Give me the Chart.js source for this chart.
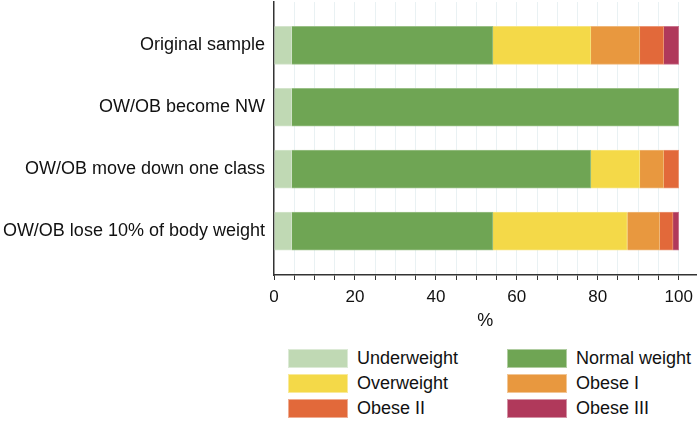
<!DOCTYPE html>
<html>
<head>
<meta charset="utf-8">
<script src="https://cdn.jsdelivr.net/npm/chart.js@4"></script>
<style>
  body { margin: 0; background: #fff; font-family: "Liberation Sans", Arial, sans-serif; }
  #wrap { position: relative; width: 700px; height: 421px; }
  #chart-box { position: absolute; left: 0; top: 0; width: 700px; height: 332px; }
  #legend { position: absolute; left: 288px; top: 349px; width: 412px; }
  .item { position: absolute; height: 18px; font-size: 18px; color: #111; white-space: nowrap; }
  .swatch { position: absolute; left: 0; top: 0; width: 58px; height: 17px; border: 1px solid rgba(255,255,255,0.45); box-sizing: content-box; }
  .item span.txt { position: absolute; left: 69px; top: 0; line-height: 18px; }
</style>
</head>
<body>
<div id="wrap">
  <div id="chart-box"><canvas id="c"></canvas></div>
  <div id="legend"></div>
</div>
<script>
// ─── Data ──────────────────────────────────────────────
const categories = ['Original sample', 'OW/OB become NW', 'OW/OB move down one class', 'OW/OB lose 10% of body weight'];
const seriesNames = ['Underweight', 'Normal weight', 'Overweight', 'Obese I', 'Obese II', 'Obese III'];
const underweight = [4.4, 4.4, 4.4, 4.4];
const normalWeight = [49.7, 95.6, 73.9, 49.7];
const overweight = [24.2, 0, 12.1, 33.2];
const obeseI = [12.1, 0, 5.9, 8.0];
const obeseII = [5.9, 0, 3.7, 3.3];
const obeseIII = [3.7, 0, 0, 1.4];
const xTickLabels = [0, 20, 40, 60, 80, 100];

const colors = ['#c0d9b4', '#6fa554', '#f4d948', '#e8983f', '#e2693a', '#b0395b'];
const seriesValues = [underweight, normalWeight, overweight, obeseI, obeseII, obeseIII];

// lighter tint for the thin bar outline
function tint(hex, f) {
  const n = parseInt(hex.slice(1), 16);
  const ch = [n >> 16, (n >> 8) & 255, n & 255].map(c => Math.round(c + (255 - c) * f));
  return `rgb(${ch.join(',')})`;
}

const datasets = seriesValues.map((vals, s) => ({
  label: seriesNames[s],
  data: vals.map((v, i) => ({ x: v, y: i })),
  backgroundColor: colors[s],
  borderColor: tint(colors[s], 0.3),
  borderWidth: 1,
  barThickness: 38
}));

const font = (size) => ({ family: '"Liberation Sans", Arial', size });

new Chart(document.getElementById('c'), {
  type: 'bar',
  data: { datasets },
  options: {
    indexAxis: 'y',
    responsive: true,
    maintainAspectRatio: false,
    animation: false,
    layout: { padding: { top: 2, right: 3, left: 0, bottom: 0 } },
    plugins: { legend: { display: false }, tooltip: { enabled: false } },
    scales: {
      x: {
        type: 'linear',
        stacked: true,
        min: 0,
        max: 104.4,
        afterBuildTicks: (scale) => {
          scale.ticks = [];
          for (let v = 0; v <= 100; v += 5) scale.ticks.push({ value: v });
        },
        ticks: {
          autoSkip: false,
          maxRotation: 0,
          padding: 7,
          color: '#111',
          font: font(17),
          callback: (v) => xTickLabels.includes(v) ? String(v) : ''
        },
        grid: {
          color: (ctx) => ctx.tick && ctx.tick.value === 0 ? 'rgba(0,0,0,0)' : '#e9f1f3',
          tickColor: '#333',
          tickLength: 5,
          lineWidth: 1
        },
        border: { display: true, color: '#333', width: 1.5 },
        title: {
          display: true,
          text: '%',
          color: '#111',
          padding: { top: -4, bottom: 0 },
          font: font(18)
        }
      },
      y: {
        type: 'linear',
        stacked: true,
        reverse: true,
        offset: false,
        min: -0.7,
        max: 3.71,
        afterBuildTicks: (scale) => {
          scale.ticks = categories.map((_, i) => ({ value: i }));
        },
        afterFit: (scale) => { scale.paddingTop = 0; scale.paddingBottom = 0; scale.width = 274; },
        ticks: {
          autoSkip: false,
          padding: 9,
          color: '#111',
          font: font(18),
          callback: (v) => categories[v]
        },
        grid: { display: false, drawTicks: false },
        border: { display: true, color: '#333', width: 1.5 }
      }
    }
  }
});

// ─── Legend (two columns) ──────────────────────────────
const legend = document.getElementById('legend');
seriesNames.forEach((name, s) => {
  const col = s % 2, row = Math.floor(s / 2);
  const item = document.createElement('div');
  item.className = 'item';
  item.style.left = (col * 219) + 'px';
  item.style.top = (row * 25) + 'px';
  item.innerHTML = `<div class="swatch" style="background:${colors[s]}"></div><span class="txt">${name}</span>`;
  legend.appendChild(item);
});
</script>
</body>
</html>
